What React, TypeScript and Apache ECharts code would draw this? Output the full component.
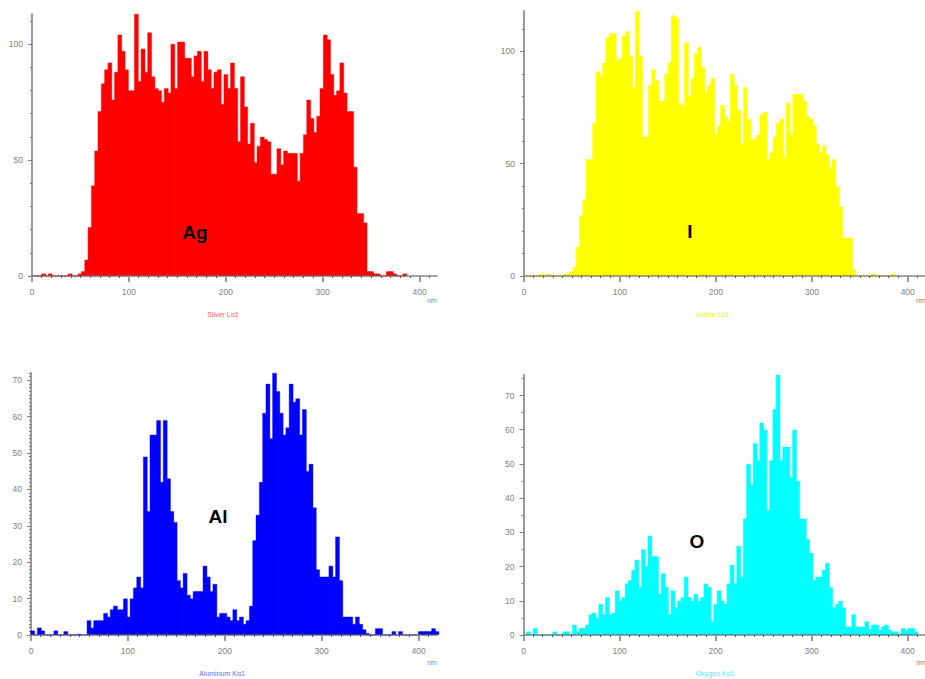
import React, { useEffect, useRef } from "react";
import * as echarts from "echarts";

// bin width of the line-scan histograms (nm); bar i sits at i*BIN_NM
const BIN_NM = 3.42;
const X_MAX = 418;

const agValues = [
  0, 0, 0, 1, 0, 1, 0, 0, 0, 0, 0, 1, 0, 0, 1,
  2, 7, 21, 39, 54, 71, 83, 89, 92, 76, 88, 104, 97, 89, 80, 80, 113, 84, 98, 88, 105, 86, 81, 80, 75, 81, 79, 100, 81, 101, 101, 94, 94, 86, 95, 97, 84, 97, 89, 81, 88, 89, 74, 87,
  81, 92, 81, 58, 86, 73, 57, 66, 49, 56, 60, 59, 58, 44, 44, 55, 48, 54, 53, 53, 53, 41, 53, 61, 76, 68, 62, 69, 81, 104, 102, 87, 78, 80, 92, 79, 71, 71, 47, 27, 27, 23,
  2, 2, 1, 1, 0, 0, 2, 2, 1, 0, 0, 1,
];

const iValues = [
  0, 0, 0, 0, 0, 1, 0, 1, 0, 0, 0, 0, 1, 1, 2, 4,
  13, 27, 34, 52, 52, 68, 91, 89, 95, 106, 108, 108, 96, 97, 107, 109, 98, 84, 118, 98, 62, 62, 85, 92, 87, 78, 78, 90, 95, 116, 115, 77, 76, 104,
  80, 88, 99, 102, 93, 82, 85, 88, 63, 67, 76, 71, 69, 90, 85, 74, 59, 84, 70, 61, 61, 63, 72, 73, 52, 55, 62, 68, 70, 53, 77, 63, 81, 81, 81, 78, 71, 70, 67, 59, 55, 58, 54, 48, 52, 40, 31, 17, 17, 17, 3,
  0, 0, 0, 0, 0, 1, 0, 0, 0, 0, 0, 1,
];

const alValues = [
  1.2, 0, 2, 1.2, 0, 0, 0, 1.2, 0, 0, 1, 0, 0, 0, 0.3, 0, 0,
  4, 2, 4, 4, 4, 6, 5, 7, 8, 7, 7, 10, 5, 10, 13, 16, 13, 49, 34, 55, 55, 59, 42, 59, 43, 34, 31, 15, 13, 17, 11, 10, 12, 12, 12, 19, 16, 12, 14, 5, 6, 6, 5,
  4, 7, 4, 5, 3, 4, 8, 26, 33, 42, 61, 69, 54, 72, 67, 61, 55, 57, 69, 64, 65, 55, 62, 45, 47, 35, 18, 16, 16, 16, 19, 16, 27, 15, 5, 5, 5, 3, 5, 3, 1.5, 0.5,
  0, 0, 1.8, 1.8, 0, 0, 0, 1, 0, 1, 0, 0, 0, 0, 0, 1, 1, 1, 1, 1.8, 1,
];

const oValues = [
  0, 1, 0, 2, 0, 0, 0, 0, 0, 1, 0, 0, 1, 1, 0, 3, 1, 2, 2, 3,
  6, 6.5, 5, 9, 6, 11, 6, 6.5, 13, 10, 11, 15, 16, 19, 22, 14, 25, 20, 29, 23, 23, 12, 18, 14, 6, 13, 8, 10, 11, 17, 11, 10, 12, 10, 11, 15, 14, 4, 9, 13,
  10, 9, 15, 20.5, 15, 26, 17, 34, 50, 44, 56, 51, 62, 60, 36.5, 51, 66,
  76.5, 51, 55, 55, 46, 60, 45, 34, 34, 28, 24, 16, 17, 17, 19, 21, 14, 8, 9, 10, 8, 2.4, 2.4, 6, 2.4, 2.4, 2.4, 4, 1.7, 3, 3, 1.5, 2.4, 3, 1.5, 1, 1, 0, 2, 1.5, 2, 2, 1,
];

const xTickLabels = [0, 100, 200, 300, 400];
const agYLabels = [0, 50, 100];
const iYLabels = [0, 50, 100];
const alYLabels = [0, 10, 20, 30, 40, 50, 60, 70];
const oYLabels = [0, 10, 20, 30, 40, 50, 60, 70];
const seriesNames = ["Silver L\u03b11", "Iodine L\u03b11", "Aluminum K\u03b11", "Oxygen K\u03b11"];
const elementNames = ["Ag", "I", "Al", "O"];

const FONT = '"Liberation Sans", Arial, sans-serif';

const panels = [
  { values: agValues, color: "#ff0000", nameColor: "#ff5a5a", yMax: 113, yLabels: agYLabels, minorStep: 10,
    grid: { left: 32, top: 14, width: 405, height: 262 }, el: [195, 232], nameXY: [223, 314], nm: [432, 300] },
  { values: iValues, color: "#ffff00", nameColor: "#eeee20", yMax: 118, yLabels: iYLabels, minorStep: 10,
    grid: { left: 524, top: 11, width: 406, height: 265 }, el: [690, 231], nameXY: [713, 314], nm: [921, 300] },
  { values: alValues, color: "#0000ff", nameColor: "#6a6aff", yMax: 72, yLabels: alYLabels, minorStep: 1,
    grid: { left: 31, top: 373, width: 405, height: 262 }, el: [218, 516], nameXY: [222, 673], nm: [432, 662] },
  { values: oValues, color: "#00ffff", nameColor: "#40eeff", yMax: 76, yLabels: oYLabels, minorStep: 5,
    grid: { left: 523.5, top: 375, width: 406, height: 260 }, el: [697, 541], nameXY: [715, 673], nm: [921, 662] },
];

function steps(max: number, step: number): number[] {
  const out: number[] = [];
  for (let v = 0; v <= max + 1e-9; v += step) out.push(Math.round(v * 100) / 100);
  return out;
}

export default function App() {
  const ref = useRef<HTMLDivElement>(null);
  useEffect(() => {
    if (!ref.current) return;
    const chart = echarts.init(ref.current, undefined, { renderer: "svg" });
    const grids: any[] = [];
    const xAxes: any[] = [];
    const yAxes: any[] = [];
    const series: any[] = [];
    const graphics: any[] = [];
    const xMinor = steps(410, 10);

    panels.forEach((p, g) => {
      grids.push({ ...p.grid, containLabel: false });
      xAxes.push({
        type: "value", gridIndex: g, min: 0, max: X_MAX, position: "bottom", z: 10,
        axisLine: { show: true, onZero: false, lineStyle: { color: "rgba(90,90,90,0.55)", width: 2 } },
        axisTick: { show: true, customValues: xMinor, length: 2, lineStyle: { color: "#555", width: 1 } },
        axisLabel: { show: false }, splitLine: { show: false },
      });
      xAxes.push({
        type: "value", gridIndex: g, min: 0, max: X_MAX, position: "bottom", z: 10,
        axisLine: { show: false, onZero: false },
        axisTick: { show: true, customValues: xTickLabels, length: 6, lineStyle: { color: "#9a9a9a", width: 2 } },
        axisLabel: { show: true, customValues: xTickLabels, fontSize: 8.5, color: "#808080", margin: 11, fontFamily: FONT },
        splitLine: { show: false },
      });
      yAxes.push({
        type: "value", gridIndex: g, min: 0, max: p.yMax, position: "left",
        axisLine: { show: true, onZero: false, lineStyle: { color: "#9a9a9a", width: 2 } },
        axisTick: { show: true, customValues: p.yLabels, length: 4, lineStyle: { color: "#888", width: 1 } },
        axisLabel: { show: true, customValues: p.yLabels, fontSize: 8.5, color: "#808080", margin: 9, fontFamily: FONT },
        splitLine: { show: false },
      });
      yAxes.push({
        type: "value", gridIndex: g, min: 0, max: p.yMax, position: "left",
        axisLine: { show: false, onZero: false },
        axisTick: { show: true, customValues: steps(p.yMax, p.minorStep), length: 2, lineStyle: { color: "#777", width: 1 } },
        axisLabel: { show: false }, splitLine: { show: false },
      });
      const barPx = (p.grid.width / X_MAX) * BIN_NM + 1.0;
      series.push({
        type: "bar", xAxisIndex: 2 * g, yAxisIndex: 2 * g, silent: true,
        barWidth: barPx, itemStyle: { color: p.color, borderColor: p.color, borderWidth: 0.4 },
        data: p.values.map((v, i) => [i * BIN_NM + BIN_NM / 2, v]),
      });
      graphics.push({
        type: "text", x: p.el[0], y: p.el[1], z: 20,
        style: { text: elementNames[g], font: `bold 19px ${FONT}`, fill: "#000", align: "center", verticalAlign: "middle" },
      });
      graphics.push({
        type: "text", x: p.nameXY[0], y: p.nameXY[1],
        style: { text: seriesNames[g], font: `7px ${FONT}`, fill: p.nameColor, align: "center", verticalAlign: "middle" },
      });
      graphics.push({
        type: "text", x: p.nm[0], y: p.nm[1],
        style: { text: "nm", font: `7px ${FONT}`, fill: "#888", align: "center", verticalAlign: "middle" },
      });
    });

    chart.setOption({
      animation: false,
      backgroundColor: "#ffffff",
      grid: grids,
      xAxis: xAxes,
      yAxis: yAxes,
      series,
      graphic: graphics,
    });
    return () => chart.dispose();
  }, []);
  return (
    <div
      ref={ref}
      style={{ position: "fixed", left: 0, top: 0, width: 925, height: 679, background: "#fff" }}
    />
  );
}
